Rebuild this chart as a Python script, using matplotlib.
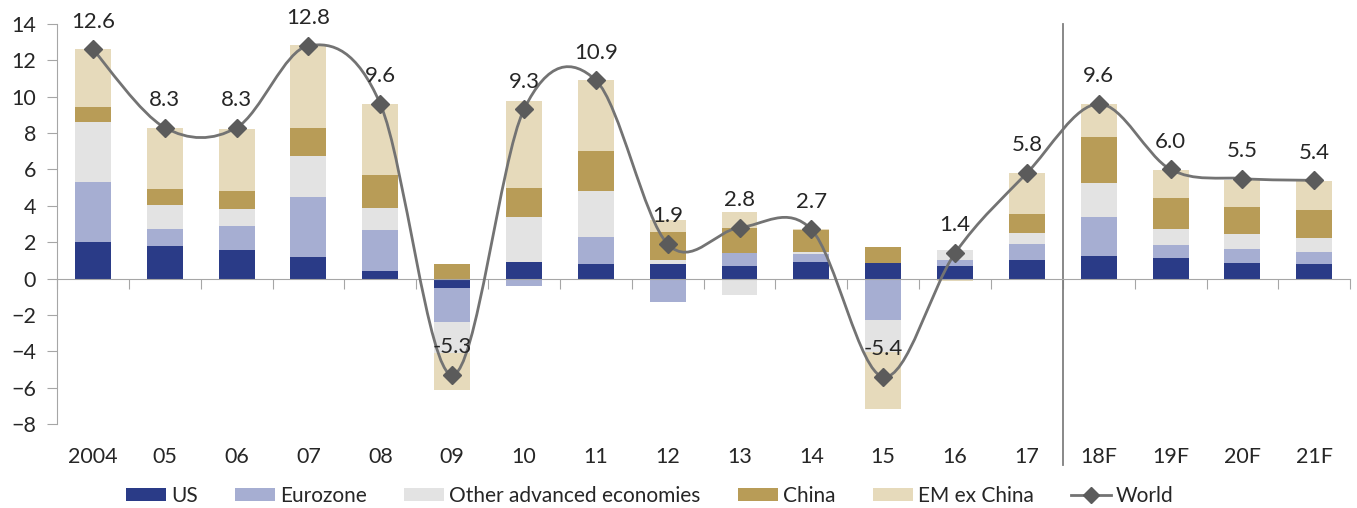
import matplotlib
matplotlib.use("Agg")
import matplotlib.pyplot as plt
from matplotlib.path import Path
from matplotlib.patches import PathPatch
from matplotlib.lines import Line2D
import numpy as np

plt.rcParams['font.family'] = ['Lato', 'DejaVu Sans']

# categories and stacked contributions (pp)
years = ["2004", "05", "06", "07", "08", "09", "10", "11", "12",
         "13", "14", "15", "16", "17", "18F", "19F", "20F", "21F"]
us    = [2.0, 1.8, 1.6, 1.2, 0.4, -0.5, 0.9, 0.8, 0.8, 0.7, 0.9, 0.85, 0.7, 1.0, 1.25, 1.15, 0.85, 0.8]
ez    = [3.3, 0.95, 1.3, 3.3, 2.25, -1.9, -0.4, 1.5, -1.3, 0.7, 0.45, -2.3, 0.35, 0.9, 2.15, 0.7, 0.8, 0.65]
other = [3.3, 1.3, 0.95, 2.25, 1.25, -1.7, 2.5, 2.5, 0.25, -0.9, 0.1, -1.75, 0.55, 0.6, 1.85, 0.9, 0.8, 0.8]
china = [0.85, 0.85, 0.95, 1.55, 1.8, 0.8, 1.6, 2.2, 1.5, 1.4, 1.2, 0.9, 0.0, 1.05, 2.55, 1.7, 1.5, 1.5]
em    = [3.15, 3.4, 3.4, 4.55, 3.9, -2.0, 4.75, 3.9, 0.65, 0.85, 0.05, -3.1, -0.15, 2.25, 1.8, 1.5, 1.45, 1.6]
world = [12.6, 8.3, 8.3, 12.8, 9.6, -5.3, 9.3, 10.9, 1.9, 2.8, 2.7, -5.4, 1.4, 5.8, 9.6, 6.0, 5.5, 5.4]

series_names = ["US", "Eurozone", "Other advanced economies", "China", "EM ex China"]
series_cols  = ['#2a3b87', '#a6aed2', '#e3e3e3', '#b89c57', '#e6dabb']
line_col   = '#737373'
marker_col = '#5b5b5b'
axis_col   = '#a6a6a6'
text_col   = '#262626'


def smooth_path(xs, ys):
    """Excel-like smoothed line: Catmull-Rom as cubic bezier"""
    pts = np.column_stack([xs, ys]).astype(float)
    n = len(pts)
    verts = [pts[0]]
    codes = [Path.MOVETO]
    for i in range(n - 1):
        p0 = pts[max(i - 1, 0)]
        p1 = pts[i]
        p2 = pts[i + 1]
        p3 = pts[min(i + 2, n - 1)]
        c1 = p1 + (p2 - p0) / 6.0
        c2 = p2 - (p3 - p1) / 6.0
        verts += [c1, c2, p2]
        codes += [Path.CURVE4] * 3
    return Path(verts, codes)


def main():
    fig = plt.figure(figsize=(13.57, 5.08), dpi=100)
    ax = fig.add_axes([0.042, 0.165, 0.953, 0.788])

    x = np.arange(len(years))
    pos_base = np.zeros(len(years))
    neg_base = np.zeros(len(years))
    for vals, name, col in zip([us, ez, other, china, em], series_names, series_cols):
        v = np.array(vals)
        bottom = np.where(v >= 0, pos_base, neg_base)
        ax.bar(x, v, width=0.5, bottom=bottom, color=col, linewidth=0, label=name, zorder=2)
        pos_base = pos_base + np.where(v >= 0, v, 0)
        neg_base = neg_base + np.where(v < 0, v, 0)

    # world line, smoothed
    patch = PathPatch(smooth_path(x, world), facecolor='none', edgecolor=line_col,
                      linewidth=2.0, zorder=4)
    ax.add_patch(patch)
    ax.plot(x, world, linestyle='none', marker='D', markersize=9,
            color=marker_col, zorder=5)
    for a, b in zip(x, world):
        ax.annotate("%.1f" % b, (a, b), xytext=(0, 20), textcoords='offset points',
                    ha='center', va='center', fontsize=16, color=text_col, zorder=6)

    ax.set_xlim(-0.5, len(years) - 0.5)
    ax.set_ylim(-8, 14)
    ax.set_yticks(range(-8, 15, 2))

    for s in ['top', 'right']:
        ax.spines[s].set_visible(False)
    ax.spines['bottom'].set_position(('data', 0))
    ax.spines['bottom'].set_color(axis_col)
    ax.spines['left'].set_color(axis_col)
    ax.spines['bottom'].set_zorder(3)

    ax.set_xticks(np.arange(len(years) + 1) - 0.5)
    ax.set_xticklabels([])
    ax.tick_params(axis='x', direction='out', length=7, color=axis_col)
    ax.tick_params(axis='y', direction='out', length=7, color=axis_col,
                   labelsize=15.5, labelcolor=text_col, pad=8)

    # category labels at the bottom
    trans = ax.get_xaxis_transform()
    for a, lab in zip(x, years):
        ax.text(a, -0.083, lab, transform=trans, ha='center', va='center',
                fontsize=15.5, color=text_col)

    # forecast divider
    ax.plot([13.5, 13.5], [-0.103, 1.0], transform=trans, color='#7f7f7f',
            linewidth=1.3, clip_on=False, zorder=3)

    handles, labels = ax.get_legend_handles_labels()
    handles.append(Line2D([0], [0], color=line_col, linewidth=2.0, marker='D',
                          markersize=8, markerfacecolor=marker_col,
                          markeredgecolor=marker_col))
    labels.append("World")
    fig.legend(handles, labels, loc='center', bbox_to_anchor=(0.479, 0.024),
               ncol=6, frameon=False, fontsize=15, handlelength=1.9,
               handleheight=0.6, handletextpad=0.25, columnspacing=1.8,
               labelcolor=text_col, borderpad=0.2)

    fig.savefig("out.png", dpi=100)


if __name__ == "__main__":
    main()
